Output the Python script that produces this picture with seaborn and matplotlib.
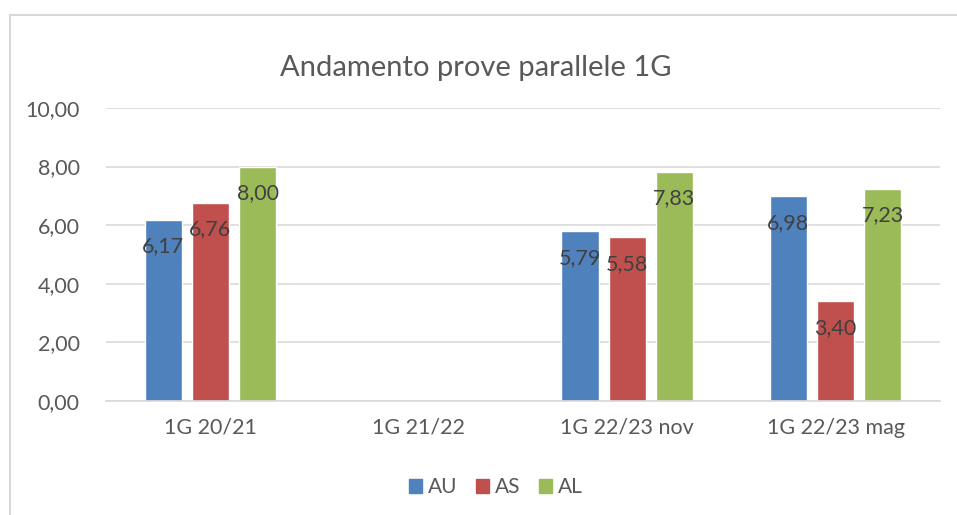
import numpy as np
import pandas as pd
import seaborn as sns
import matplotlib.pyplot as plt
from matplotlib.patches import Rectangle

# values
categories = ['1G 20/21', '1G 21/22', '1G 22/23 nov', '1G 22/23 mag']
series = ['AU', 'AS', 'AL']
au = [6.17, np.nan, 5.79, 6.98]
as_ = [6.76, np.nan, 5.58, 3.40]
al = [8.00, np.nan, 7.83, 7.23]
colors = ['#4F81BD', '#C0504D', '#9BBB59']

data = pd.DataFrame({
    'categoria': categories * 3,
    'serie': ['AU'] * 4 + ['AS'] * 4 + ['AL'] * 4,
    'valore': au + as_ + al,
})

sns.set_style('white')
plt.rcParams['font.family'] = ['Lato', 'DejaVu Sans']

fig = plt.figure(figsize=(9.57, 5.15), dpi=100)
ax = fig.add_axes([0.111, 0.2214, 0.871, 0.569])

sns.barplot(data=data, x='categoria', y='valore', hue='serie', order=categories,
            hue_order=series, palette=colors, width=0.68, gap=0.21,
            saturation=1, legend=False, ax=ax)

ax.set_ylim(0, 10)
ax.set_xlim(-0.5, 3.5)
ax.set_yticks(np.arange(0, 11, 2))
ax.set_yticklabels([f'{v:.2f}'.replace('.', ',') for v in np.arange(0, 11, 2)])
ax.set_xlabel('')
ax.set_ylabel('')
ax.yaxis.grid(True, color='#D9D9D9', linewidth=1.2)
ax.set_axisbelow(True)
for s in ['left', 'top', 'right']:
    ax.spines[s].set_visible(False)
ax.spines['bottom'].set_color('#D9D9D9')
ax.spines['bottom'].set_linewidth(1.2)
ax.tick_params(axis='both', length=0, labelsize=15.5, colors='#595959')
ax.tick_params(axis='y', pad=19)
ax.tick_params(axis='x', pad=12)

# data labels, inside the end of each bar
for cont in ax.containers:
    for bar in cont:
        h = bar.get_height()
        if np.isnan(h) or h == 0:
            continue
        ax.annotate(f'{h:.2f}'.replace('.', ','),
                    (bar.get_x() + bar.get_width() / 2, h),
                    xytext=(0, -19), textcoords='offset points',
                    ha='center', va='center', fontsize=15.5, color='#404040')

fig.text(0.497, 0.868, 'Andamento prove parallele 1G', ha='center', va='center',
         fontsize=21, color='#595959')

handles = [Rectangle((0, 0), 1, 1, color=c) for c in colors]
fig.legend(handles, series, loc='center', bbox_to_anchor=(0.518, 0.054), ncol=3,
           frameon=False, fontsize=15, handlelength=0.65, handleheight=0.65,
           handletextpad=0.25, columnspacing=0.9, labelcolor='#595959')

# outer chart border (right and bottom edges fall outside the image)
fig.patches.append(Rectangle((10 / 957, -0.1), 1.2, 1 - 15 / 515 + 0.1,
                             transform=fig.transFigure, fill=False,
                             edgecolor='#D9D9D9', linewidth=1.5))

fig.savefig('out.png', dpi=100)
